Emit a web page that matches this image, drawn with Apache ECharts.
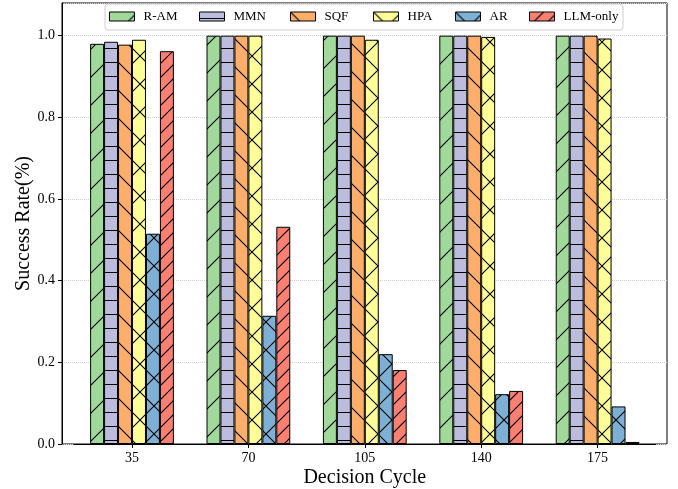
<!DOCTYPE html>
<html><head><meta charset="utf-8">
<script src="https://cdn.jsdelivr.net/npm/echarts@6/dist/echarts.min.js"></script>
<style>html,body{margin:0;padding:0;background:#fff}#c{width:678px;height:489px}</style>
</head><body><div id="c"></div>
<script>
const categories = ['35', '70', '105', '140', '175'];
const seriesNames = ['R-AM', 'MMN', 'SQF', 'HPA', 'AR', 'LLM-only'];
const rAM = [0.980, 1.0, 1.0, 1.0, 1.0];
const mmn = [0.985, 1.0, 1.0, 1.0, 1.0];
const sqf = [0.978, 1.0, 1.0, 1.0, 1.0];
const hpa = [0.990, 1.0, 0.990, 0.997, 0.993];
const ar = [0.515, 0.314, 0.220, 0.122, 0.092];
const llm = [0.962, 0.532, 0.181, 0.130, 0.005];
const yTicks = [0, 0.2, 0.4, 0.6, 0.8, 1.0];
const colors = ['#a1d99b', '#bcbddc', '#fdae6b', '#ffff99', '#7eb0d5', '#fb8072'];
const hatches = ['/', '--', '\\', 'x', 'x', '//'];
const seriesData = [rAM, mmn, sqf, hpa, ar, llm];

function makePattern(color, hatch) {
  const P = 28;
  const c = document.createElement('canvas');
  c.width = P; c.height = P;
  const g = c.getContext('2d');
  g.fillStyle = color; g.fillRect(0, 0, P, P);
  g.strokeStyle = '#000'; g.lineWidth = 1.1;
  g.beginPath();
  const ne = (step) => { for (let k = -P; k <= P; k += step) { g.moveTo(k, P); g.lineTo(k + P, 0); } };
  const nw = (step) => { for (let k = -P; k <= P; k += step) { g.moveTo(k, 0); g.lineTo(k + P, P); } };
  if (hatch === '/') ne(P);
  if (hatch === '//') ne(P / 2);
  if (hatch === '\\') nw(P);
  if (hatch === 'x') { ne(P); nw(P); }
  if (hatch === '--') { g.moveTo(0, 6.5); g.lineTo(P, 6.5); g.moveTo(0, 20.5); g.lineTo(P, 20.5); }
  g.stroke();
  return { image: c, repeat: 'repeat' };
}

const FONT = 'Liberation Serif';
const legendLefts = [109, 199, 290, 373, 455, 529];

const chart = echarts.init(document.getElementById('c'), null, { renderer: 'canvas' });
chart.setOption({
  animation: false,
  backgroundColor: '#fff',
  grid: [
    { left: 62, top: 3, width: 605, height: 441, show: true, borderColor: '#000', borderWidth: 1, backgroundColor: 'transparent', outerBoundsMode: 'none', containLabel: false },
    { left: 73.8, top: 3, width: 582, height: 441, outerBoundsMode: 'none', containLabel: false }
  ],
  graphic: [{
    type: 'rect', z: 3,
    shape: { x: 105, y: 4, width: 518, height: 26, r: 3 },
    style: { fill: 'rgba(255,255,255,0.85)', stroke: '#ccc', lineWidth: 1 }
  }],
  legend: seriesNames.map((n, i) => ({
    data: [n], left: legendLefts[i], top: 10, padding: 0, icon: 'rect',
    itemWidth: 25, itemHeight: 9, selectedMode: false,
    itemStyle: { borderColor: '#000', borderWidth: 1 },
    textStyle: { fontFamily: FONT, fontSize: 13, color: '#000', padding: [0, 0, 0, 4] }
  })),
  xAxis: [
    { gridIndex: 0, type: 'value', min: -0.6, max: 4.6, show: false },
    {
      gridIndex: 1, type: 'category', data: categories,
      axisLine: { show: true, lineStyle: { color: '#000', width: 1 } },
      axisTick: { show: true, alignWithLabel: true, length: 4, lineStyle: { color: '#000' } },
      axisLabel: { margin: 7, fontFamily: FONT, fontSize: 14, color: '#000' },
      name: 'Decision Cycle', nameLocation: 'middle', nameGap: 24, nameMoveOverlap: false,
      nameTextStyle: { fontFamily: FONT, fontSize: 20, color: '#000' }
    }
  ],
  yAxis: [
    {
      gridIndex: 0, type: 'value', min: 0, max: 1.08, interval: 0.2,
      axisLine: { show: false }, axisTick: { show: false }, axisLabel: { show: false },
      splitLine: { show: true, lineStyle: { type: 'dotted', color: '#cfcfcf', width: 1 } }
    },
    {
      gridIndex: 1, type: 'value', min: 0, max: 1.08, interval: 0.2, offset: 11.8,
      axisLine: { show: true, lineStyle: { color: '#000', width: 1 } },
      axisTick: { show: true, length: 4, lineStyle: { color: '#000' }, customValues: yTicks },
      axisLabel: { customValues: yTicks, formatter: v => Number(v).toFixed(1), margin: 7, fontFamily: FONT, fontSize: 14, color: '#000' },
      splitLine: { show: false },
      name: 'Success Rate(%)', nameLocation: 'middle', nameGap: 28, nameMoveOverlap: false,
      nameTextStyle: { fontFamily: FONT, fontSize: 20, color: '#000' }
    }
  ],
  series: seriesData.map((d, i) => ({
    name: seriesNames[i], type: 'bar', xAxisIndex: 1, yAxisIndex: 1,
    data: d, barWidth: 13.96, barGap: '0%',
    itemStyle: { color: makePattern(colors[i], hatches[i]), borderColor: '#000', borderWidth: 1 },
    emphasis: { disabled: true }
  }))
});
</script>
</body></html>
